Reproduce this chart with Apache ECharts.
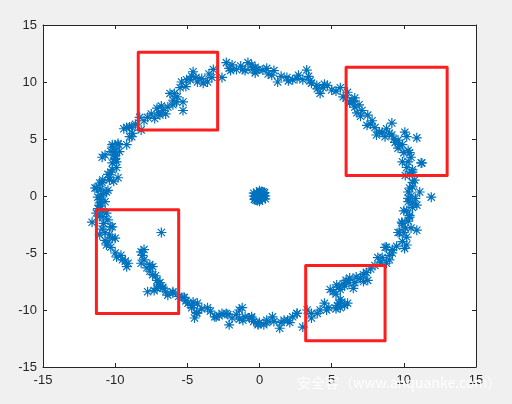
<!DOCTYPE html>
<html>
<head>
<meta charset="utf-8">
<script src="https://cdn.jsdelivr.net/npm/echarts@6/dist/echarts.min.js"></script>
<style>
html,body{margin:0;padding:0;background:#f0f0f0;}
#c{width:512px;height:404px;}
</style>
</head>
<body>
<div id="c"></div>
<script>
// Ring points: upper-left arc
var ringUpperLeft = [
[-11.4,0.7],[-11.07,1.14],[-10.6,0.35],[-10.86,1.4],[-10.4,1.4],[-9.8,1.6],[-10.2,2.3],[-10.0,3.2],[-9.9,3.8],[-10.2,4.5],
[-10.9,3.4],[-10.0,3.9],[-9.8,4.6],[-9.2,4.5],[-9.2,6.0],[-8.85,6.05],[-8.8,5.5],[-8.85,5.2],[-8.3,6.9],[-8.2,5.8],
[-7.75,6.9],[-7.26,6.8],[-7.1,7.7],[-6.7,7.5],[-6.9,7.1],[-6.35,7.8],[-6.2,9.0],[-6.0,8.4],[-5.75,8.25],[-5.3,8.25],
[-5.3,7.5],[-5.5,9.5],[-5.4,10.0],[-5.05,10.2],[-4.6,10.9],[-4.8,10.2],[-4.3,10.0],[-3.9,9.9],[-3.6,10.0],[-3.3,10.4],
[-3.2,11.1],[-2.6,10.4],[-2.3,11.7],[-2.1,11.2],[-1.6,11.1],[-1.15,11.1],[-0.8,11.7],[-0.5,11.1],[-0.1,11.1],
[-9.0,6.05],[-9.8,4.5],[-10.2,4.3],[-9.7,3.9],[-10.7,3.6],[-10.0,3.3],[-10.2,2.9],[-9.9,3.0],[-10.3,2.1],[-10.4,1.6],
[-10.9,1.2],[-11.3,0.7],[-10.5,0.5],[-1.9,11.5],[-1.3,11.4],[-4.4,10.4],[-5.7,8.7],[-7.5,7.2],[-8.6,6.3],
[-9.4,5.9],[-9.0,5.2],[-8.0,6.6],[-7.0,7.3],[-6.5,7.2],[-6.8,7.9],[-6.0,8.0],[-5.9,9.0],[-5.1,9.6],[-4.7,10.5],
[-4.0,10.3],[-3.5,10.7],[-10.1,3.6],[-10.3,3.9],[-9.9,2.5],[-10.5,1.9],[-10.1,1.3],[-11.0,0.6],[-10.8,0.2],
[-2.0,11.0],[-1.0,11.0]
];

// Ring points: upper-right arc
var ringUpperRight = [
[-0.54,11.5],[-0.2,11.05],[0.23,11.05],[0.85,10.6],[1.26,10.0],[1.9,10.4],[2.3,10.2],[3.0,10.2],[3.27,11.05],[3.6,9.9],
[3.97,9.7],[4.2,9.0],[4.7,9.7],[5.0,9.3],[5.6,9.5],[5.8,8.7],[6.1,9.1],[6.25,8.15],[6.6,8.6],[6.75,7.3],
[7.1,7.5],[7.5,7.1],[7.45,6.2],[8.0,6.0],[8.1,5.35],[8.5,5.6],[9.17,6.4],[9.17,5.35],[9.6,4.9],[10.07,5.6],
[9.9,4.5],[10.3,4.0],[10.9,5.1],[9.9,3.0],[10.5,3.4],[11.25,2.9],[10.6,2.3],[10.75,1.4],[10.4,0.7],[11.1,0.35],
[11.9,-0.1],[10.3,-0.2],[9.0,5.5],[10.2,5.2],[9.7,4.5],[10.4,3.8],[11.2,2.9],[10.6,2.1],[10.6,1.2],[10.3,0.35],
[-0.3,11.3],[0.5,11.2],[1.0,11.0],[2.7,10.6],[3.4,10.5],[4.4,9.5],[10.1,1.8],[10.8,-0.2],[9.4,4.7],[8.8,5.9],
[7.8,6.6],[6.9,8.0],[6.4,8.4],
[-0.3,10.8],[0.6,10.7],[1.5,10.5],[2.0,10.1],[2.6,10.3],[3.5,10.1],[4.0,9.4],[4.5,9.8],[5.3,9.2],
[6.0,8.6],[6.5,8.3],[6.6,7.8],[7.0,7.0],[7.7,6.3],[8.3,5.6],[8.7,5.2],[9.3,5.0],[9.6,4.2],[10.0,3.8],
[10.3,3.0],[10.2,2.5],[10.4,1.9],[10.6,0.8],[10.5,0.0]
];

// Ring points: lower-right arc
var ringLowerRight = [
[10.3,-0.5],[10.9,-0.8],[10.4,-1.7],[9.9,-2.4],[10.9,-3.0],[9.6,-3.2],[10.2,-3.6],[10.05,-4.6],[9.2,-4.7],[8.7,-4.5],
[9.0,-5.6],[8.2,-5.4],[8.8,-5.9],[7.4,-6.7],[6.7,-7.1],[7.5,-7.4],[6.25,-7.2],[5.8,-7.7],[5.35,-7.8],[5.1,-8.4],
[4.9,-8.2],[6.5,-8.1],[5.6,-9.1],[6.1,-9.4],[5.6,-9.8],[4.5,-9.4],[4.65,-10.0],[4.0,-10.3],[3.6,-10.7],[3.3,-10.0],
[3.0,-11.5],[2.6,-10.3],[2.1,-11.1],[1.5,-11.1],[1.4,-11.6],[0.9,-10.6],[0.5,-11.1],[-0.1,-11.2],[-0.55,-10.6],
[10.6,-1.0],[10.4,-1.85],[9.85,-2.3],[9.7,-3.2],[10.2,-4.3],[8.8,-4.5],[9.2,-5.0],[8.5,-5.4],
[0.0,-11.1],[0.5,-10.9],[1.95,-10.9],[2.6,-10.3],[5.4,-9.6],[5.7,-9.3],[5.5,-8.0],[5.9,-7.9],[6.2,-7.6],
[7.0,-7.2],[7.2,-6.9],[5.3,-9.9],[10.0,-1.3],[10.5,-2.8],
[10.6,-0.6],[10.2,-1.3],[10.3,-2.2],[10.1,-2.8],[10.0,-3.2],[9.9,-4.0],[9.5,-4.4],[9.0,-5.2],[8.4,-5.8],[8.0,-6.1],
[7.7,-6.4],[7.2,-7.5],[6.6,-7.6],[6.0,-7.4],[5.6,-8.2],[5.3,-8.6],[5.5,-9.4],[5.9,-9.6],[4.8,-9.8],[4.2,-10.0],
[3.6,-10.3],[2.3,-10.6],[1.7,-10.9],[1.0,-11.0],[0.3,-11.3]
];

// Ring points: lower-left arc
var ringLowerLeft = [
[-11.07,-0.8],[-11.3,-1.5],[-11.6,-2.3],[-10.6,-1.5],[-10.2,-2.7],[-11.07,-3.4],[-10.7,-3.9],[-10.0,-3.7],[-10.6,-4.3],[-9.9,-5.35],
[-9.5,-5.6],[-9.2,-6.2],[-9.1,-5.9],[-6.8,-3.2],[-8.2,-4.9],[-8.1,-5.2],[-8.2,-5.9],[-7.8,-6.3],[-7.4,-6.2],[-7.4,-6.9],
[-7.1,-7.4],[-6.9,-7.6],[-7.1,-8.1],[-6.7,-8.1],[-7.75,-8.4],[-6.35,-8.7],[-6.0,-8.4],[-5.3,-8.9],[-4.95,-9.4],[-4.7,-9.8],
[-4.3,-9.4],[-4.35,-10.3],[-4.5,-10.7],[-3.6,-9.8],[-3.1,-10.6],[-2.6,-10.3],[-2.2,-10.4],[-2.1,-11.3],[-1.6,-10.4],[-1.2,-9.8],
[-1.15,-10.9],[-0.55,-10.7],[-0.1,-11.3],
[-11.2,-0.1],[-11.07,-0.6],[-10.7,-0.5],[-10.85,-1.8],[-10.3,-2.7],[-10.7,-3.2],[-10.2,-3.7],[-10.5,-4.1],
[-6.7,-8.0],[-6.0,-8.5],[-5.2,-8.9],[-4.7,-9.6],[-4.35,-10.2],[-3.0,-10.6],[-2.3,-10.3],[-1.4,-10.0],[-1.4,-10.8],
[-0.7,-10.7],[-11.0,-0.3],[-11.2,-1.1],[-10.9,-1.3],[-11.0,0.1],[-10.8,-2.4],
[-0.4,-11.0],[-1.0,-10.6],[-1.9,-10.7],[-2.8,-10.5],[-3.4,-10.1],[-4.0,-9.9],[-4.6,-9.3],[-5.1,-9.2],[-5.6,-8.8],
[-11.0,-0.9],[-11.1,-1.8],[-10.5,-2.1],[-10.9,-2.9],[-10.4,-3.4],[-10.3,-4.5],[-10.0,-5.0],[-9.6,-5.2],[-9.3,-5.7],
[-8.0,-4.7],[-8.0,-5.6],[-7.6,-6.0],[-7.6,-6.6],[-7.2,-7.0],[-7.0,-7.8],[-7.3,-8.3],[-6.5,-8.4]
];

// Central cluster
var centerPoints = [
[0,0],[0.1,0.1],[-0.1,-0.1],[0.2,-0.1],[-0.2,0.1],[0.05,0.3],[-0.05,-0.3],[0.3,0.2],[-0.3,-0.2],[0.2,-0.3],
[-0.2,0.3],[0.4,0],[-0.4,0],[0,0.45],[0,-0.45],[0.25,0.35],[-0.25,-0.35],[0.1,-0.15],[-0.1,0.2],[0.4,-0.25],
[-0.4,0.25],[0.35,0.3],[-0.35,-0.3],[0.15,0.4],[-0.15,-0.4]
];

// Red boxes: [xMin, xMax, yMin, yMax]
var boxUpperLeft = [-8.4, -2.9, 5.8, 12.6];
var boxUpperRight = [6.0, 13.0, 1.8, 11.3];
var boxLowerLeft = [-11.3, -5.6, -10.3, -1.2];
var boxLowerRight = [3.2, 8.7, -12.7, -6.1];

var watermark = '安全客（www.anquanke.com）';

var star = 'path://M0,-5L0,5M-5,0L5,0M-3.6,-3.6L3.6,3.6M-3.6,3.6L3.6,-3.6';
var blue = '#0072BD';
var axisColor = '#262626';

function boxLine(b) {
  return [[b[0], b[2]], [b[1], b[2]], [b[1], b[3]], [b[0], b[3]], [b[0], b[2]]];
}

function scatterSeries(data) {
  return {
    type: 'scatter', data: data, symbol: star, symbolSize: 10,
    itemStyle: { color: 'rgba(0,0,0,0)', borderColor: blue, borderWidth: 1.2, opacity: 1 },
    silent: true, z: 2
  };
}
function boxSeries(b) {
  return {
    type: 'line', data: boxLine(b), showSymbol: false, symbol: 'none',
    lineStyle: { color: '#FF1E1E', width: 3, join: 'round', cap: 'round' },
    silent: true, z: 5
  };
}

var axisCommon = {
  type: 'value', min: -15, max: 15, interval: 5,
  axisLine: { show: true, onZero: false, lineStyle: { color: axisColor, width: 1 } },
  axisTick: { show: true, inside: true, length: 4, lineStyle: { color: axisColor } },
  splitLine: { show: false }
};
function mk(extra) { return Object.assign({}, axisCommon, extra); }

var chart = echarts.init(document.getElementById('c'), null, { renderer: 'canvas' });
chart.setOption({
  animation: false,
  backgroundColor: '#f0f0f0',
  grid: { left: 43, right: 36, top: 25, bottom: 37, show: true, backgroundColor: '#ffffff', borderWidth: 0 },
  xAxis: [
    mk({ position: 'bottom', axisLabel: { color: axisColor, fontSize: 13, fontFamily: 'Liberation Sans, Arial', margin: 7 } }),
    mk({ position: 'top', axisLabel: { show: false } })
  ],
  yAxis: [
    mk({ position: 'left', axisLabel: { color: axisColor, fontSize: 13, fontFamily: 'Liberation Sans, Arial', margin: 6 } }),
    mk({ position: 'right', axisLabel: { show: false } })
  ],
  series: [
    scatterSeries(ringUpperLeft),
    scatterSeries(ringUpperRight),
    scatterSeries(ringLowerRight),
    scatterSeries(ringLowerLeft),
    scatterSeries(centerPoints),
    boxSeries(boxUpperLeft),
    boxSeries(boxUpperRight),
    boxSeries(boxLowerLeft),
    boxSeries(boxLowerRight)
  ],
  graphic: [{
    type: 'text', left: 297, top: 376, z: 100,
    style: { text: watermark, fill: 'rgba(255,255,255,0.9)', font: '14px "Noto Sans CJK SC", sans-serif' }
  }]
});
</script>
</body>
</html>
